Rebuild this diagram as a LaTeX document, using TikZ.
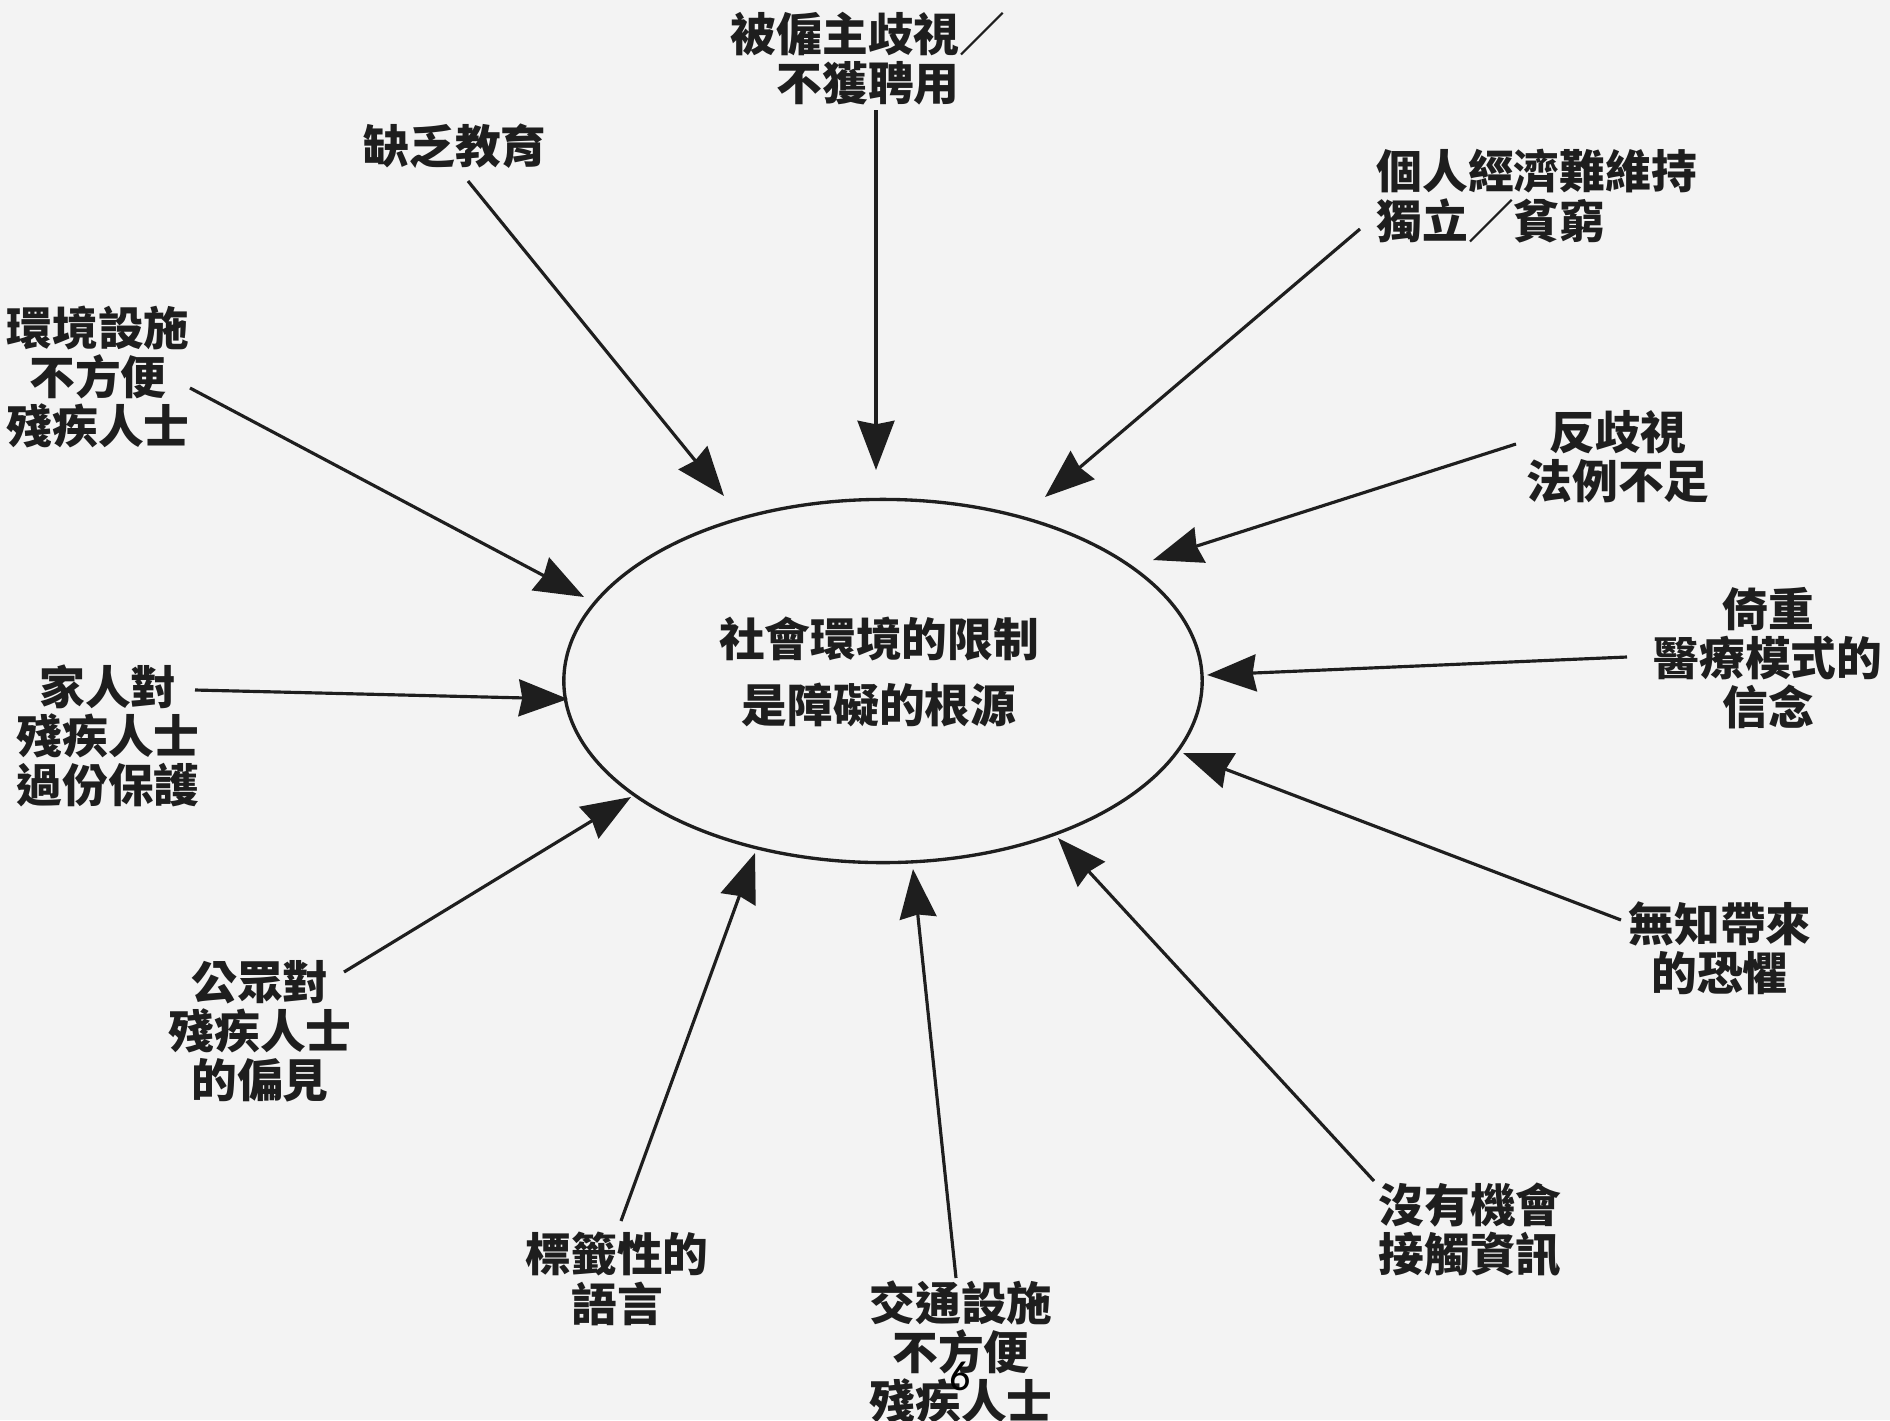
\documentclass[tikz,border=0pt]{standalone}
\usepackage{fontspec}
\newfontfamily\cjk{Noto Sans CJK TC}
\newfontfamily\pgnum{Carlito}
\usetikzlibrary{arrows.meta,shapes.geometric}
\definecolor{bg}{RGB}{243,243,243}
\definecolor{ink}{RGB}{30,30,30}
\tikzset{
  lbl/.style={inner sep=0pt, align=center, text=ink, font=\cjk\bfseries\fontsize{13pt}{14pt}\selectfont},
  arr/.style={draw=ink, line width=0.9pt, -{Stealth[length=14pt,width=10.5pt,inset=1pt]}},
}
\begin{document}
\begin{tikzpicture}[x=0.01cm,y=-0.01cm]
\fill[bg] (0,0) rectangle (1890,1420);
\useasboundingbox (0,0) rectangle (1890,1420);
% central ellipse
\node[draw=ink, line width=0.95pt, ellipse, minimum width=6.38cm, minimum height=3.63cm, inner sep=0pt] (core) at (883,681) {};
\node[lbl, font=\cjk\bfseries\fontsize{13pt}{19pt}\selectfont] (coretxt) at (879,672) {社會環境的限制\\是障礙的根源};
% labels
\node[lbl] (l1) at (868,59) {被僱主歧視／\\不獲聘用};
\node[lbl] (l2) at (455,146) {缺乏教育};
\node[lbl, align=left, anchor=west] (l3) at (1376,196) {個人經濟難維持\\獨立／貧窮};
\node[lbl] (l4) at (98,377) {環境設施\\不方便\\殘疾人士};
\node[lbl] (l5) at (1618,457) {反歧視\\法例不足};
\node[lbl] (l6) at (1768,658) {倚重\\醫療模式的\\信念};
\node[lbl] (l7) at (108,736) {家人對\\殘疾人士\\過份保護};
\node[lbl] (l8) at (1720,948) {無知帶來\\的恐懼};
\node[lbl] (l9) at (260,1031) {公眾對\\殘疾人士\\的偏見};
\node[lbl] (l10) at (1470,1230) {沒有機會\\接觸資訊};
\node[lbl] (l11) at (617,1279) {標籤性的\\語言};
\node[lbl] (l12) at (961,1352) {交通設施\\不方便\\殘疾人士};
% arrow endpoints
\coordinate (s1) at (876,110);  \coordinate (e1) at (876,470);
\coordinate (s2) at (468,181);  \coordinate (e2) at (724,496);
\coordinate (s3) at (1360,229); \coordinate (e3) at (1045,497);
\coordinate (s4) at (190,388);  \coordinate (e4) at (584,597);
\coordinate (s5) at (1516,444); \coordinate (e5) at (1153,560);
\coordinate (s6) at (1627,657); \coordinate (e6) at (1207,675);
\coordinate (s7) at (195,690);  \coordinate (e7) at (568,699);
\coordinate (s8) at (1621,920); \coordinate (e8) at (1183,753);
\coordinate (s9) at (344,972);  \coordinate (e9) at (631,797);
\coordinate (s10) at (1374,1181); \coordinate (e10) at (1058,838);
\coordinate (s11) at (621,1221); \coordinate (e11) at (755,853);
\coordinate (s12) at (956,1278); \coordinate (e12) at (913,869);
\foreach \i in {1,...,12} { \draw[arr] (s\i) -- (e\i); }
\node[inner sep=0pt, font=\pgnum\fontsize{12pt}{13pt}\selectfont, text=black] (pg) at (960,1376) {6};
\end{tikzpicture}
\end{document}
